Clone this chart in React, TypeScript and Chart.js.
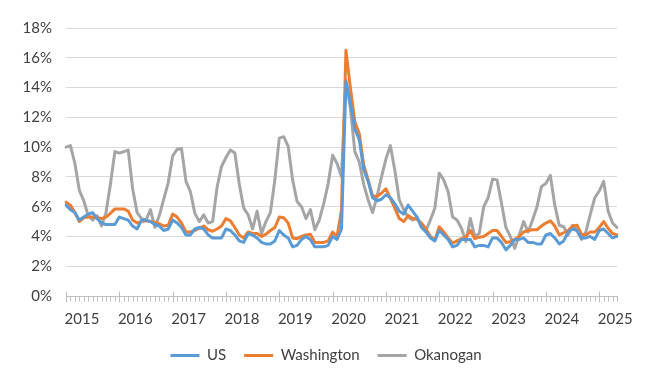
import { useEffect, useRef } from 'react';
import { Chart, registerables } from 'chart.js';

Chart.register(...registerables);

// Tick labels (January of each year)
const YEAR_TICKS = ['2015', '2016', '2017', '2018', '2019', '2020', '2021', '2022', '2023', '2024', '2025'];
const MONTHS = ['Jan', 'Feb', 'Mar', 'Apr', 'May', 'Jun', 'Jul', 'Aug', 'Sep', 'Oct', 'Nov', 'Dec'];

// Monthly unemployment rate (%), Jan 2015 – May 2025
const US = [
  6.1, 5.8, 5.6, 5.1, 5.3, 5.5, 5.6, 5.2, 4.9, 4.8, 4.8, 4.8,
  5.3, 5.2, 5.1, 4.7, 4.5, 5.1, 5.1, 5.0, 4.8, 4.7, 4.4, 4.5,
  5.1, 4.9, 4.6, 4.1, 4.1, 4.5, 4.6, 4.5, 4.1, 3.9, 3.9, 3.9,
  4.5, 4.4, 4.1, 3.7, 3.6, 4.2, 4.1, 3.9, 3.6, 3.5, 3.5, 3.7,
  4.4, 4.1, 3.9, 3.3, 3.4, 3.8, 4.0, 3.8, 3.3, 3.3, 3.3, 3.4,
  4.0, 3.8, 4.5, 14.4, 13.0, 11.2, 10.5, 8.5, 7.7, 6.6, 6.4, 6.5,
  6.8, 6.6, 6.2, 5.7, 5.5, 6.1, 5.7, 5.3, 4.6, 4.3, 3.9, 3.7,
  4.4, 4.1, 3.8, 3.3, 3.4, 3.8, 3.8, 3.8, 3.3, 3.4, 3.4, 3.3,
  3.9, 3.9, 3.6, 3.1, 3.4, 3.8, 3.8, 3.9, 3.6, 3.6, 3.5, 3.5,
  4.1, 4.2, 3.9, 3.5, 3.7, 4.3, 4.5, 4.4, 3.9, 3.9, 4.0, 3.8,
  4.4, 4.5, 4.2, 3.9, 4.0,
];

const WASHINGTON = [
  6.3, 6.1, 5.6, 5.0, 5.25, 5.3, 5.3, 5.25, 5.2, 5.3, 5.55, 5.85,
  5.85, 5.85, 5.7, 5.1, 4.9, 5.0, 5.05, 5.0, 4.95, 4.85, 4.7, 4.75,
  5.5, 5.3, 4.9, 4.3, 4.3, 4.4, 4.55, 4.7, 4.45, 4.35, 4.5, 4.7,
  5.2, 5.05, 4.6, 4.1, 3.9, 4.3, 4.2, 4.2, 4.0, 4.15, 4.4, 4.6,
  5.3, 5.25, 4.9, 3.9, 3.85, 4.0, 4.1, 4.15, 3.6, 3.6, 3.6, 3.7,
  4.3, 4.0, 5.8, 16.5, 14.0, 11.7, 10.9, 8.8, 7.8, 6.7, 6.7, 6.9,
  7.2, 6.55, 5.9, 5.2, 5.0, 5.4, 5.2, 5.15, 4.9, 4.5, 4.0, 3.75,
  4.65, 4.3, 3.9, 3.55, 3.7, 3.85, 3.95, 4.4, 3.85, 3.95, 4.0, 4.2,
  4.4, 4.4, 4.0, 3.6, 3.65, 3.8, 4.0, 4.3, 4.4, 4.45, 4.45, 4.7,
  4.9, 5.05, 4.7, 4.1, 4.25, 4.4, 4.7, 4.75, 4.15, 4.1, 4.3, 4.3,
  4.6, 5.0, 4.55, 4.2, 4.1,
];

const OKANOGAN = [
  10.0, 10.1, 8.9, 7.1, 6.4, 5.4, 5.1, 5.4, 4.7, 5.6, 7.5, 9.7,
  9.6, 9.7, 9.8, 7.2, 5.6, 5.2, 5.1, 5.8, 4.6, 5.4, 6.5, 7.6,
  9.4, 9.85, 9.9, 7.7, 7.0, 5.55, 5.0, 5.45, 4.9, 5.0, 7.3, 8.7,
  9.3, 9.8, 9.6, 7.5, 5.9, 5.45, 4.5, 5.7, 4.2, 5.0, 5.6, 7.8,
  10.6, 10.7, 10.05, 7.8, 6.35, 6.0, 5.2, 5.8, 4.45, 5.1, 6.2, 7.55,
  9.45, 8.9, 8.0, 14.5, 12.6, 9.7, 9.0, 7.5, 6.45, 5.6, 6.7, 8.0,
  9.2, 10.1, 8.45, 6.45, 5.8, 5.3, 5.1, 5.3, 4.65, 4.4, 5.1, 5.9,
  8.25, 7.8, 7.0, 5.3, 5.1, 4.55, 3.65, 5.2, 4.0, 4.2, 6.0, 6.6,
  7.85, 7.8, 6.25, 4.6, 4.0, 3.2, 4.1, 5.0, 4.3, 5.1, 6.0, 7.35,
  7.55, 8.1, 6.1, 4.75, 4.65, 4.1, 4.75, 4.4, 3.8, 4.3, 5.5, 6.6,
  7.05, 7.7, 5.7, 4.9, 4.6,
];

const START_YEAR = 2015;
const CATEGORIES = US.map((_, i) => `${MONTHS[i % 12]} ${START_YEAR + Math.floor(i / 12)}`);

const FONT = { family: 'Lato', size: 15 };
const TEXT_COLOR = '#404040';

const axisTicksPlugin = {
  id: 'axisTicks',
  afterDraw(chart: any) {
    const xs = chart.scales.x;
    const { ctx, chartArea } = chart;
    ctx.save();
    ctx.strokeStyle = '#bfbfbf';
    ctx.lineWidth = 1;
    ctx.beginPath();
    const y0 = Math.round(chartArea.bottom) + 0.5;
    for (let i = 0; i < CATEGORIES.length; i++) {
      const px = Math.round(xs.getPixelForValue(i)) + 0.5;
      const major = i % 12 === 0;
      ctx.moveTo(px, major ? y0 - 5 : y0);
      ctx.lineTo(px, y0 + (major ? 6 : 5));
    }
    ctx.stroke();
    ctx.restore();
  },
};

export default function App() {
  const canvasRef = useRef<HTMLCanvasElement | null>(null);

  useEffect(() => {
    const canvas = canvasRef.current;
    if (!canvas) return;
    const line = (label: string, data: number[], color: string) => ({
      label,
      data,
      borderColor: color,
      backgroundColor: color,
      borderWidth: 3,
      pointRadius: 0,
      borderJoinStyle: 'round' as const,
      borderCapStyle: 'round' as const,
      tension: 0,
      yAxisID: 'y',
    });
    const chart = new Chart(canvas, {
      type: 'line',
      data: {
        labels: CATEGORIES,
        datasets: [
          line('US', US, '#5B9BD5'),
          line('Washington', WASHINGTON, '#ED7D31'),
          line('Okanogan', OKANOGAN, '#A5A5A5'),
        ],
      },
      options: {
        responsive: false,
        animation: false,
        layout: { padding: { left: 2, right: 0, top: 28, bottom: 6 } },
        plugins: {
          tooltip: { enabled: false },
          legend: {
            position: 'bottom',
            labels: {
              font: FONT,
              color: TEXT_COLOR,
              usePointStyle: true,
              pointStyle: 'line',
              pointStyleWidth: 29,
              padding: 18,
            },
          },
        },
        scales: {
          x: {
            type: 'category',
            offset: false,
            grid: { display: false },
            border: { display: true, color: '#bfbfbf', width: 1 },
            ticks: {
              autoSkip: false,
              maxRotation: 0,
              minRotation: 0,
              labelOffset: 16,
              padding: 6,
              font: FONT,
              color: TEXT_COLOR,
              callback: (_v: any, i: number) => (i % 12 === 0 ? YEAR_TICKS[i / 12] : ''),
            },
            afterFit: (scale: any) => {
              scale.height = 34;
            },
          },
          y: {
            position: 'left',
            min: 0,
            max: 18,
            grid: { color: '#d9d9d9', lineWidth: 1, drawTicks: false },
            border: { display: false },
            ticks: {
              stepSize: 2,
              padding: 14,
              font: FONT,
              color: TEXT_COLOR,
              callback: (v: any) => `${v}%`,
            },
            afterFit: (scale: any) => {
              scale.width = 64;
            },
          },
          yRight: {
            position: 'right',
            min: 0,
            max: 18,
            grid: { display: false },
            border: { display: false },
            ticks: { display: false },
            afterFit: (scale: any) => {
              scale.width = 33;
            },
          },
        },
      },
      plugins: [axisTicksPlugin],
    });
    return () => chart.destroy();
  }, []);

  return (
    <div style={{ position: 'absolute', left: 0, top: 0, width: 650, height: 379, background: '#fff' }}>
      <canvas ref={canvasRef} width={650} height={379} style={{ display: 'block' }} />
    </div>
  );
}
